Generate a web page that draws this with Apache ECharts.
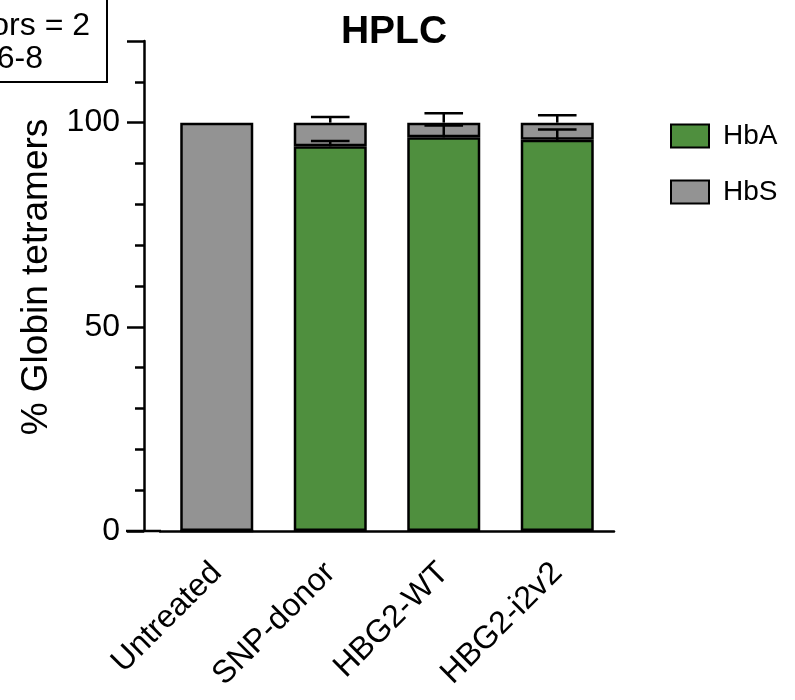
<!DOCTYPE html>
<html>
<head>
<meta charset="utf-8">
<script src="https://cdn.jsdelivr.net/npm/echarts@6/dist/echarts.min.js"></script>
<style>
html,body{margin:0;padding:0;background:#fff;}
#chart{width:795px;height:700px;}
</style>
</head>
<body>
<div id="chart"></div>
<script>
const categories = ['Untreated', 'SNP-donor', 'HBG2-WT', 'HBG2-i2v2'];
const hbA = [0, 94.2, 96.4, 95.8];
const hbS = [100, 5.8, 3.6, 4.2];
const hbA_sd = [0, 1.3, 2.9, 2.5];
const hbS_sd = [0, 1.4, 2.3, 1.8];
const yTickLabels = [0, 50, 100];
const seriesNames = ['HbA', 'HbS'];
const boxLines = ['Donors = 2', 'n = 6-8'];

const GREEN = '#4f8f3e';
const GRAY = '#939393';
const FONT = 'Liberation Sans, Arial, sans-serif';

const chart = echarts.init(document.getElementById('chart'));

// error bar data: [category index, base, top]
const errA = categories.map((c, i) => [i, hbA[i], hbA[i] + hbA_sd[i]]).filter((d, i) => hbA_sd[i] > 0);
const errS = categories.map((c, i) => [i, hbA[i] + hbS[i], hbA[i] + hbS[i] + hbS_sd[i]]).filter((d, i) => hbS_sd[i] > 0);

function renderErr(params, api) {
  const x = api.value(0);
  const p0 = api.coord([x, api.value(1)]);
  const p1 = api.coord([x, api.value(2)]);
  const band = api.size([1, 0])[0];
  const half = band * 0.17;
  const st = {stroke: '#000', lineWidth: 2.5};
  return {
    type: 'group',
    children: [
      {type: 'line', shape: {x1: p0[0], y1: p0[1], x2: p1[0], y2: p1[1]}, style: st},
      {type: 'line', shape: {x1: p1[0] - half, y1: p1[1], x2: p1[0] + half, y2: p1[1]}, style: st}
    ]
  };
}

const option = {
  animation: false,
  backgroundColor: '#fff',
  title: {
    text: 'HPLC',
    left: 389, top: 8, textAlign: 'center',
    textStyle: {fontFamily: FONT, fontSize: 39, fontWeight: 'bold', color: '#000'}
  },
  legend: {
    data: seriesNames,
    orient: 'vertical',
    left: 665, top: 117,
    itemWidth: 38, itemHeight: 23,
    itemGap: 28,
    icon: 'rect',
    itemStyle: {borderColor: '#000', borderWidth: 2},
    textStyle: {fontFamily: FONT, fontSize: 28, color: '#000', padding: [0, 0, 0, 9]}
  },
  grid: {left: 160, right: 181, top: 41, bottom: 169, containLabel: false},
  xAxis: {
    type: 'category',
    data: categories,
    axisLine: {lineStyle: {color: '#000', width: 2.5}},
    axisTick: {alignWithLabel: true, length: 16, lineStyle: {color: '#000', width: 2.5}},
    axisLabel: {rotate: 45, fontFamily: FONT, fontSize: 32, color: '#000', margin: 37, interval: 0}
  },
  yAxis: [
    {
      type: 'value', position: 'left', min: 0, max: 120, interval: 50, offset: 16,
      name: '% Globin tetramers', nameLocation: 'middle', nameGap: 84,
      nameTextStyle: {fontFamily: FONT, fontSize: 37, color: '#000', padding: [0, 0, 0, 18]},
      axisLine: {show: true, lineStyle: {color: '#000', width: 2.5}},
      axisTick: {show: true, length: 17, lineStyle: {color: '#000', width: 2.5}},
      axisLabel: {fontFamily: FONT, fontSize: 32, color: '#000', margin: 24,
        formatter: v => yTickLabels.includes(v) ? String(v) : ''},
      splitLine: {show: false}
    },
    {
      type: 'value', position: 'left', min: 0, max: 120, interval: 10, offset: 16,
      axisLine: {show: false},
      axisTick: {show: true, length: 9, lineStyle: {color: '#000', width: 2.5}},
      axisLabel: {show: false},
      splitLine: {show: false}
    }
  ],
  series: [
    {
      name: 'HbA', type: 'bar', stack: 'total', data: hbA, barWidth: 73,
      itemStyle: {color: GREEN, borderColor: '#000', borderWidth: 2.5}
    },
    {
      name: 'HbS', type: 'bar', stack: 'total', data: hbS, barWidth: 73,
      itemStyle: {color: GRAY, borderColor: '#000', borderWidth: 2.5}
    },
    {type: 'custom', renderItem: renderErr, data: errA, z: 5, silent: true},
    {type: 'custom', renderItem: renderErr, data: errS, z: 5, silent: true}
  ]
};
chart.setOption(option);

// decorations: x-axis line extension to y axis, clipped info box
const y0 = chart.convertToPixel({yAxisIndex: 0}, 0);
chart.setOption({
  graphic: [
    {type: 'line', shape: {x1: 126, y1: y0, x2: 161, y2: y0}, style: {stroke: '#000', lineWidth: 2.5}, z: 10},
    {type: 'rect', shape: {x: -200, y: -5, width: 307, height: 87}, style: {fill: '#fff', stroke: '#000', lineWidth: 2}},
    {type: 'text', style: {text: boxLines[0], x: 90, y: 26, align: 'right', verticalAlign: 'middle', font: '32px ' + FONT, fill: '#000'}},
    {type: 'text', style: {text: boxLines[1], x: 43, y: 59, align: 'right', verticalAlign: 'middle', font: '32px ' + FONT, fill: '#000'}}
  ]
});
</script>
</body>
</html>
